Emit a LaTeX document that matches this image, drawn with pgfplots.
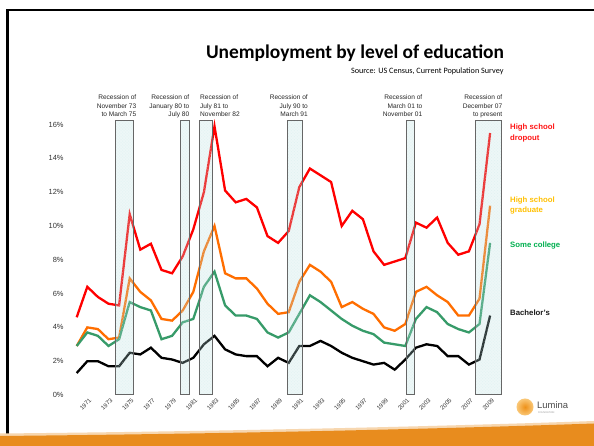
\documentclass[border=0pt]{standalone}
\usepackage{pgfplots}
\pgfplotsset{compat=1.18}
\usetikzlibrary{patterns}
\usepackage{fontspec}
\setmainfont{Liberation Sans}
\newfontfamily\calibri{Carlito}
\definecolor{cRed}{RGB}{255,0,0}
\definecolor{cOrange}{RGB}{255,110,0}
\definecolor{cGreen}{RGB}{55,155,105}
\definecolor{lRed}{RGB}{255,20,20}
\definecolor{lOrange}{RGB}{255,192,0}
\definecolor{lGreen}{RGB}{0,176,80}
\definecolor{boxfill}{RGB}{185,225,225}
\definecolor{boxdots}{RGB}{200,230,230}
\definecolor{band}{RGB}{232,140,30}
\definecolor{logoOr}{RGB}{238,145,25}
\definecolor{logoEdge}{RGB}{250,200,120}
\begin{document}
\begin{tikzpicture}
\begin{scope}[x=1bp,y=1bp]
\useasboundingbox (0,0) rectangle (594,446);
\fill[white] (0,0) rectangle (594,446);
\draw[line width=2.5bp, black] (7.5,0) -- (7.5,436) -- (594,436);
\end{scope}
\begin{axis}[
  at={(66.1bp,51bp)}, anchor=south west,
  scale only axis, width=445.2bp, height=278.85bp,
  xmin=1969, xmax=2011, ymin=0, ymax=16.5,
  axis line style={draw=none}, tick style={draw=none},
  ytick={0,2,...,16},
  yticklabels={0\%,2\%,4\%,6\%,8\%,10\%,12\%,14\%,16\%},
  yticklabel style={font=\fontsize{7.5}{9}\selectfont, text=black!80, xshift=1bp},
  xtick={1971,1973,...,2009},
  xticklabels={1971,1973,1975,1977,1979,1981,1983,1985,1987,1989,1991,1993,1995,1997,1999,2001,2003,2005,2007,2009},
  xticklabel style={font=\fontsize{6}{7}\selectfont, text=black!80, rotate=45, anchor=north east, inner sep=1bp, yshift=-2bp},
  clip=false,
]
\addplot[cRed, line width=2.3bp] coordinates {
(1970,4.6)(1971,6.4)(1972,5.8)(1973,5.4)(1974,5.3)(1975,10.7)(1976,8.6)(1977,8.95)(1978,7.4)(1979,7.2)
(1980,8.2)(1981,9.8)(1982,12.0)(1983,15.9)(1984,12.1)(1985,11.4)(1986,11.6)(1987,11.1)(1988,9.4)(1989,9.0)
(1990,9.7)(1991,12.3)(1992,13.4)(1993,13.0)(1994,12.6)(1995,10.0)(1996,10.9)(1997,10.4)(1998,8.5)(1999,7.7)
(2000,7.9)(2001,8.1)(2002,10.2)(2003,9.9)(2004,10.5)(2005,9.0)(2006,8.3)(2007,8.5)(2008,10.1)(2009,15.5)};
\addplot[cOrange, line width=2.3bp] coordinates {
(1970,2.9)(1971,4.0)(1972,3.9)(1973,3.3)(1974,3.4)(1975,6.9)(1976,6.1)(1977,5.6)(1978,4.5)(1979,4.4)
(1980,5.0)(1981,6.1)(1982,8.5)(1983,10.0)(1984,7.2)(1985,6.9)(1986,6.9)(1987,6.3)(1988,5.4)(1989,4.8)
(1990,4.9)(1991,6.7)(1992,7.7)(1993,7.3)(1994,6.7)(1995,5.2)(1996,5.5)(1997,5.1)(1998,4.8)(1999,4.0)
(2000,3.8)(2001,4.2)(2002,6.1)(2003,6.4)(2004,5.9)(2005,5.5)(2006,4.7)(2007,4.7)(2008,5.7)(2009,11.2)};
\addplot[cGreen, line width=2.3bp] coordinates {
(1970,2.9)(1971,3.7)(1972,3.5)(1973,2.9)(1974,3.3)(1975,5.5)(1976,5.2)(1977,5.0)(1978,3.3)(1979,3.5)
(1980,4.3)(1981,4.5)(1982,6.4)(1983,7.3)(1984,5.3)(1985,4.7)(1986,4.7)(1987,4.5)(1988,3.7)(1989,3.4)
(1990,3.7)(1991,4.8)(1992,5.9)(1993,5.5)(1994,5.0)(1995,4.5)(1996,4.1)(1997,3.8)(1998,3.6)(1999,3.1)
(2000,3.0)(2001,2.9)(2002,4.5)(2003,5.2)(2004,4.9)(2005,4.2)(2006,3.9)(2007,3.7)(2008,4.2)(2009,9.0)};
\addplot[black, line width=2.3bp] coordinates {
(1970,1.3)(1971,2.0)(1972,2.0)(1973,1.7)(1974,1.7)(1975,2.5)(1976,2.4)(1977,2.8)(1978,2.2)(1979,2.1)
(1980,1.9)(1981,2.2)(1982,3.0)(1983,3.5)(1984,2.7)(1985,2.4)(1986,2.3)(1987,2.3)(1988,1.7)(1989,2.2)
(1990,1.9)(1991,2.9)(1992,2.9)(1993,3.2)(1994,2.9)(1995,2.5)(1996,2.2)(1997,2.0)(1998,1.8)(1999,1.9)
(2000,1.5)(2001,2.1)(2002,2.8)(2003,3.0)(2004,2.9)(2005,2.3)(2006,2.3)(2007,1.8)(2008,2.1)(2009,4.7)};
\pgfplotsset{recbox/.style={draw=black!60, line width=1bp, fill=boxfill, fill opacity=0.25,
  postaction={pattern=crosshatch dots, pattern color=boxdots, fill opacity=0.35}}}
\addplot[recbox] coordinates {(1973.64,0)(1973.64,16.27)(1975.34,16.27)(1975.34,0)} -- cycle;
\addplot[recbox] coordinates {(1979.78,0)(1979.78,16.27)(1980.63,16.27)(1980.63,0)} -- cycle;
\addplot[recbox] coordinates {(1981.63,0)(1981.63,16.27)(1982.79,16.27)(1982.79,0)} -- cycle;
\addplot[recbox] coordinates {(1989.87,0)(1989.87,16.27)(1991.32,16.27)(1991.32,0)} -- cycle;
\addplot[recbox] coordinates {(2001.09,0)(2001.09,16.27)(2001.91,16.27)(2001.91,0)} -- cycle;
\addplot[recbox] coordinates {(2007.58,0)(2007.58,16.27)(2010.10,16.27)(2010.10,0)} -- cycle;
\end{axis}
\begin{scope}[x=1bp,y=1bp]
\node[anchor=base, font=\calibri\bfseries\fontsize{19.5}{23}\selectfont] at (355,387) {Unemployment by level of education};
\node[anchor=base east, font=\calibri\fontsize{8.2}{10}\selectfont] at (507,372.5) {Source: US Census, Current Population Survey};
\tikzset{rl/.style={font=\fontsize{6.6}{8.3}\selectfont, text=black!85, inner sep=0pt}}
\node[rl, anchor=north east, align=right] at (136.5,351) {Recession of\\November 73\\to March 75};
\node[rl, anchor=north east, align=right] at (189.5,351) {Recession of\\January 80 to\\July 80};
\node[rl, anchor=north west, align=left] at (200,351) {Recession of\\July 81 to\\November 82};
\node[rl, anchor=north east, align=right] at (308,351) {Recession of\\July 90 to\\March 91};
\node[rl, anchor=north east, align=right] at (422.5,351) {Recession of\\March 01 to\\November 01};
\node[rl, anchor=north east, align=right] at (502.5,351) {Recession of\\December 07\\to present};
\tikzset{sl/.style={font=\bfseries\fontsize{7.8}{10.5}\selectfont, inner sep=0pt, anchor=north west, align=left}}
\node[sl, text=lRed] at (510,322.2) {High school\\dropout};
\node[sl, text=lOrange] at (510,249.6) {High school\\graduate};
\node[sl, text=lGreen] at (510,204.6) {Some college};
\node[sl, text=black!90] at (510,136.2) {Bachelor's};
\fill[band!35] (0,12.5) .. controls (250,15) and (450,20) .. (594,25) -- (594,0) -- (0,0) -- cycle;
\fill[band] (0,10) .. controls (250,12.5) and (450,17.5) .. (594,22.5) -- (594,0) -- (0,0) -- cycle;
\shade[inner color=logoOr, outer color=logoEdge] (525,39) circle (8.5);
\node[anchor=west, font=\fontsize{9.5}{11}\selectfont, text=black!70, inner sep=0pt] at (537,41) {Lumina};
\node[anchor=west, font=\fontsize{2.5}{3}\selectfont, text=black!40, inner sep=0pt] at (538,33.5) {FOUNDATION};
\end{scope}
\end{tikzpicture}
\end{document}
